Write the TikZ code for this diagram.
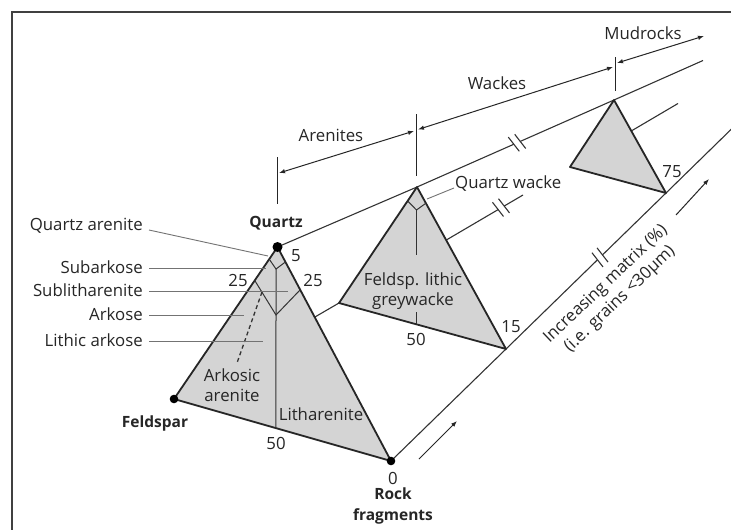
\documentclass[tikz,border=0pt]{standalone}
\usepackage{fontspec}
\setmainfont{Open Sans}
\usetikzlibrary{arrows.meta,calc}
\begin{document}
\begin{tikzpicture}[x=1pt,y=-1pt,
  lbl/.style={font=\fontsize{16.8}{20.5}\selectfont, inner sep=0pt, text=black!85},
  blbl/.style={lbl, font=\fontsize{15.5}{20.5}\selectfont\bfseries},
  tri/.style={fill=black!17, draw=black!85, line width=1.8pt, line join=round},
  inner/.style={draw=black!80, line width=1pt},
  longline/.style={draw=black!80, line width=1.1pt},
  leader/.style={draw=black!55, line width=0.9pt},
  dim/.style={draw=black!85, line width=1pt, {Latex[length=6pt,width=4.5pt]}-{Latex[length=6pt,width=4.5pt]}},
  onearrow/.style={draw=black!85, line width=1pt, -{Latex[length=6pt,width=4.5pt]}},
  tick/.style={draw=black!85, line width=1pt},
  brkst/.style={draw=black!80, line width=1.1pt}]
\useasboundingbox (0,0) rectangle (731,530);
\fill[white] (0,0) rectangle (731,530);
% frame
\draw[line width=2.5pt, black!75] (12,531) -- (12,12) -- (732,12);

% vertices
\coordinate (Q1) at (277.5,247);
\coordinate (F1) at (174,399);
\coordinate (R1) at (391,461);
\coordinate (Q2) at (417,187);
\coordinate (F2) at (339,303);
\coordinate (R2) at (506,349);
\coordinate (Q3) at (614,100);
\coordinate (F3) at (570,167);
\coordinate (R3) at (666,193);
\coordinate (Qend) at (703,60.5);
\coordinate (Fmid) at (523,195);
\coordinate (Fend) at (678,103.5);
\coordinate (Rend) at (732,128.5);

% long lines
\draw[longline] (Q1) -- (Q2) -- (Q3) -- (Qend);
\draw[longline] (F1) -- (F2) -- (Fmid);
\draw[longline] (F3) -- (Fend);
\draw[longline] (R1) -- (R2) -- (R3) -- (Rend);

% break marks
\newcommand\brkmark[2]{%
  \draw[white,line width=3pt] ($(#1)+(#2:3.5)$) -- ($(#1)+(#2:-3.5)$);
  \draw[brkst] ($(#1)+(#2:3.5)+(5.5,7.1)$) -- ($(#1)+(#2:3.5)-(5.5,7.1)$);
  \draw[brkst] ($(#1)+(#2:-3.5)+(5.5,7.1)$) -- ($(#1)+(#2:-3.5)-(5.5,7.1)$);}
\coordinate (BQ) at (517,142.8);
\coordinate (BF) at (501,207.6);
\coordinate (BR) at (600,257.4);
\brkmark{BQ}{-23.8}
\brkmark{BF}{-30.5}
\brkmark{BR}{-44.3}

% triangles
\draw[tri] (Q1) -- (F1) -- (R1) -- cycle;
\draw[tri] (Q2) -- (F2) -- (R2) -- cycle;
\draw[tri] (Q3) -- (F3) -- (R3) -- cycle;

% inner lines triangle 1
\coordinate (C1a) at (276,269);
\coordinate (C1b) at (276,315);
\coordinate (C1c) at ($(F1)!0.47!(R1)$);
\draw[inner] ($(Q1)!0.08!(F1)$) -- (C1a) -- ($(Q1)!0.07!(R1)$);
\draw[inner] ($(Q1)!0.22!(F1)$) -- (C1b) -- ($(Q1)!0.2!(R1)$);
\draw[inner] (C1a) -- (C1c);
\draw[inner, dash pattern=on 4pt off 3pt, line width=1.3pt] (262,292) -- (237,363);

% inner lines triangle 2
\coordinate (C2a) at (416.5,210);
\draw[inner] ($(Q2)!0.12!(F2)$) -- (C2a) -- ($(Q2)!0.1!(R2)$);
\draw[inner] (C2a) -- (416.5,255);
\draw[inner] (416.5,312) -- (416.5,324.4);

% leaders
\draw[leader] (149,230) -- (268,256);
\draw[leader] (149,268) -- (266,268);
\draw[leader] (149,291) -- (288,291);
\draw[leader] (149,315) -- (244,315);
\draw[leader] (149,341) -- (263,341);
\draw[leader] (427,199) -- (454,188);

% dots
\fill[black] (Q1) circle (5);
\fill[black] (F1) circle (4.3);
\fill[black] (R1) circle (4.3);

% labels left
\node[lbl, anchor=base east] (lqa) at (143,230.5) {Quartz arenite};
\node[lbl, anchor=base east] (lsa) at (143,273.5) {Subarkose};
\node[lbl, anchor=base east] (lsl) at (143,296.5) {Sublitharenite};
\node[lbl, anchor=base east] (lar) at (143,320.5) {Arkose};
\node[lbl, anchor=base east] (lla) at (143,346.5) {Lithic arkose};

% vertex labels
\node[blbl] (lq) at (276,223) {Quartz};
\node[blbl] (lf) at (155,423) {Feldspar};
\node[lbl] (l0) at (393,478) {0};
\node[blbl, align=center] (lr) at (393,506) {Rock\\fragments};

% numbers
\node[lbl] (n5) at (296,256) {5};
\node[lbl] (n25a) at (238,280) {25};
\node[lbl] (n25b) at (313,280) {25};
\node[lbl] (n50a) at (276,443) {50};
\node[lbl] (n15) at (511,327) {15};
\node[lbl] (n50b) at (416,339) {50};
\node[lbl] (n75) at (672,172) {75};

% field labels
\node[lbl, align=center] (ak) at (232,385) {Arkosic\\arenite};
\node[lbl] (lith) at (321,414) {Litharenite};
\node[lbl, align=center] (fl) at (413,291) {Feldsp. lithic\\greywacke};
\node[lbl, anchor=base west] (qw) at (455,188) {Quartz wacke};

% dimension lines
\draw[tick] (277,157) -- (277,204);
\draw[tick] (416,114) -- (416,176);
\draw[tick] (615,57) -- (615,91);
\draw[dim] (279,173) -- (414,131);
\draw[dim] (418,129.5) -- (613,67);
\draw[dim] (617,63) -- (704,36);
\node[lbl] (tar) at (331,135) {Arenites};
\node[lbl] (twa) at (497,83) {Wackes};
\node[lbl] (tmu) at (643,33) {Mudrocks};

% matrix arrows and text
\coordinate (ma1) at (419,459);
\coordinate (ma2) at (457,421);
\coordinate (mb1) at (676,215);
\coordinate (mb2) at (709,179);
\draw[onearrow] (ma1) -- (ma2);
\draw[onearrow] (mb1) -- (mb2);
\node[lbl, rotate=43.5, align=center] (im) at (613,292) {Increasing matrix (\%)\\(i.e. grains <30μm)};
\end{tikzpicture}
\end{document}
